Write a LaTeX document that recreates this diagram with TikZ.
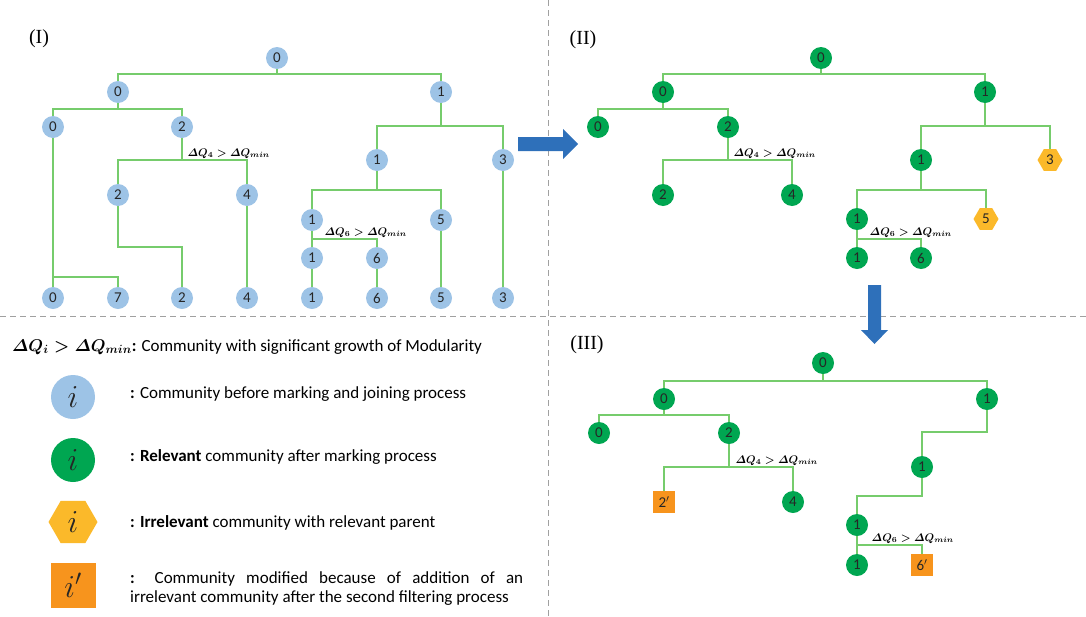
\documentclass[tikz,border=0pt]{standalone}
\usepackage{fix-cm}
\usepackage{amsmath,amssymb}
\usepackage[no-math]{fontspec}
\setmainfont{Carlito}
\newfontfamily\panelfont{Liberation Serif}
\usepackage{tikz}
\usetikzlibrary{shapes.geometric}

\definecolor{commblue}{RGB}{157,195,230}
\definecolor{relgreen}{RGB}{0,166,81}
\definecolor{irryellow}{RGB}{251,185,42}
\definecolor{modorange}{RGB}{247,148,29}
\definecolor{brgreen}{RGB}{118,204,108}
\definecolor{arrblue}{RGB}{46,112,186}
\definecolor{sepgray}{RGB}{160,160,160}

\newcommand{\dq}[1]{{\boldmath$\varDelta Q_{#1}>\varDelta Q_{min}$}}

\begin{document}
\begin{tikzpicture}[x=1pt,y=-1pt,
	font=\fontsize{15}{16}\selectfont,
	comm/.style={circle,fill=commblue,minimum size=22pt,inner sep=0pt,text=black!85},
	rel/.style={circle,fill=relgreen,minimum size=22pt,inner sep=0pt,text=black!85},
	irr/.style={regular polygon,regular polygon sides=6,fill=irryellow,minimum size=25pt,inner sep=0pt,text=black!85},
	mod/.style={rectangle,fill=modorange,minimum size=22pt,inner sep=0pt,text=black!85},
	br/.style={draw=brgreen,line width=1.3pt},
	dql/.style={anchor=south west,inner sep=1.5pt,font=\fontsize{11}{12}\selectfont},
	panel/.style={font=\panelfont\fontsize{20}{22}\selectfont},
	legend/.style={anchor=west,inner sep=0pt,font=\fontsize{17}{19}\selectfont},
	big/.style={font=\fontsize{32}{34}\selectfont},
	sep/.style={draw=sepgray,dash pattern=on 6pt off 4pt,line width=1pt}]
	\useasboundingbox (0,0) rectangle (1086,616);

	%% separators between the panels
	\draw[sep] (548,0) -- (548,616);
	\draw[sep] (0,316) -- (1086,316);

	%% panel (I): before marking
	\node[panel] (lI) at (39,39) {(I)};
	\node[comm] (r) at (277,58){0};
	\node[comm] (a) at (118,92){0};\node[comm] (b) at (441,92){1};
	\node[comm] (a0) at (53,127){0};\node[comm] (a2) at (182,127){2};
	\node[comm] (c2) at (118,195){2};\node[comm] (c4) at (247,195){4};
	\node[comm] (b1) at (377,160){1};\node[comm] (b3) at (503,160){3};
	\node[comm] (d1) at (312,220){1};\node[comm] (d5) at (441,220){5};
	\node[comm] (e1) at (312,258){1};\node[comm] (e6) at (377,258){6};
	%% leaves drawn with a loop
	\foreach \x/\l [count=\k] in {53/0,118/7,182/2,247/4,312/1,377/6,441/5,503/3}{
		\node[comm] (L\k) at (\x,298){\l};
		}
	\coordinate (jr) at (277,74);\coordinate (jA) at (118,109);
	\coordinate (jB) at (182,160);\coordinate (jC) at (53,277);
	\coordinate (jD) at (118,247);\coordinate (jE) at (441,126);
	\coordinate (jF) at (377,190);\coordinate (jG) at (312,239);
	\draw[br] (a) |- (jr) -| (b); \draw[br] (r) -- (jr);
	\draw[br] (a0) |- (jA) -| (a2); \draw[br] (a) -- (jA);
	\draw[br] (c2) |- (jB) -| (c4); \draw[br] (a2) -- (jB);
	\draw[br] (a0) -- (L1); \draw[br] (jC) -| (L2);
	\draw[br] (c2) -- (jD) -| (L3);
	\draw[br] (c4) -- (L4);
	\draw[br] (b1) |- (jE) -| (b3); \draw[br] (b) -- (jE);
	\draw[br] (d1) |- (jF) -| (d5); \draw[br] (b1) -- (jF);
	\draw[br] (d1) -- (e1); \draw[br] (jG) -| (e6);
	\draw[br] (e1) -- (L5); \draw[br] (e6) -- (L6);
	\draw[br] (d5) -- (L7); \draw[br] (b3) -- (L8);
	\node[dql,xshift=4pt] (qI4) at (jB) {\dq{4}};
	\node[dql,xshift=11pt] (qI6) at (jG) {\dq{6}};

	%% panel (II): after marking
	\node[panel] (lII) at (583,40) {(II)};
	\node[rel] (sr) at (821,58){0};
	\node[rel] (sa) at (663,92){0};\node[rel] (sb) at (985,92){1};
	\node[rel] (sa0) at (598,127){0};\node[rel] (sa2) at (728,127){2};
	\node[rel] (sc2) at (663,195){2};\node[rel] (sc4) at (792,195){4};
	\node[rel] (sb1) at (921,160){1};\node[irr] (sb3) at (1050,160){3};
	\node[rel] (sd1) at (857,219){1};\node[irr] (sd5) at (986,219){5};
	\node[rel] (se1) at (857,258){1};\node[rel] (se6) at (921,258){6};
	\coordinate (sjr) at (821,74);\coordinate (sjA) at (663,109);
	\coordinate (sjB) at (728,160);\coordinate (sjE) at (985,126);
	\coordinate (sjF) at (921,190);\coordinate (sjG) at (857,239);
	\draw[br] (sa) |- (sjr) -| (sb); \draw[br] (sr) -- (sjr);
	\draw[br] (sa0) |- (sjA) -| (sa2); \draw[br] (sa) -- (sjA);
	\draw[br] (sc2) |- (sjB) -| (sc4); \draw[br] (sa2) -- (sjB);
	\draw[br] (sb1) |- (sjE) -| (sb3); \draw[br] (sb) -- (sjE);
	\draw[br] (sd1) |- (sjF) -| (sd5); \draw[br] (sb1) -- (sjF);
	\draw[br] (sd1) -- (se1); \draw[br] (sjG) -| (se6);
	\node[dql,xshift=4pt] (qII4) at (sjB) {\dq{4}};
	\node[dql,xshift=11pt] (qII6) at (sjG) {\dq{6}};

	%% panel (III): after joining
	\node[panel] (lIII) at (587,345) {(III)};
	\node[rel] (tr) at (823,363){0};
	\node[rel] (ta) at (664,399){0};\node[rel] (tb) at (987,399){1};
	\node[rel] (ta0) at (599,433){0};\node[rel] (ta2) at (729,433){2};
	\node[mod] (tc2) at (664,502){2$'$};\node[rel] (tc4) at (793,502){4};
	\node[rel] (tb1) at (922,467){1};
	\node[rel] (td1) at (857,525){1};
	\node[rel] (te1) at (857,565){1};\node[mod] (te6) at (922,565){6$'$};
	\coordinate (tjr) at (823,381);\coordinate (tjA) at (664,415);
	\coordinate (tjB) at (729,467);\coordinate (tjE) at (987,432);
	\coordinate (tjF) at (922,496);\coordinate (tjG) at (857,545);
	\draw[br] (ta) |- (tjr) -| (tb); \draw[br] (tr) -- (tjr);
	\draw[br] (ta0) |- (tjA) -| (ta2); \draw[br] (ta) -- (tjA);
	\draw[br] (tc2) |- (tjB) -| (tc4); \draw[br] (ta2) -- (tjB);
	\draw[br] (tb) -- (tjE) -| (tb1);
	\draw[br] (tb1) -- (tjF) -| (td1);
	\draw[br] (td1) -- (te1); \draw[br] (tjG) -| (te6);
	\node[dql,xshift=5pt] (qIII4) at (tjB) {\dq{4}};
	\node[dql,xshift=13pt] (qIII6) at (tjG) {\dq{6}};

	%% block arrows between the panels
	\fill[arrblue] (518,137) -- (563,137) -- (563,129) -- (578,144) -- (563,159) -- (563,151) -- (518,151) -- cycle;
	\fill[arrblue] (868,285) -- (881,285) -- (881,330) -- (888,330) -- (874.5,344) -- (861,330) -- (868,330) -- cycle;

	%% legend
	\node[legend] (k0) at (12,347) {\dq{i}\textbf{:} Community with significant growth of Modularity};
	\node[comm,minimum size=44pt,big] (kc) at (73,397){$i$};
	\node[rel,minimum size=44pt,big] (kr) at (73,460){$i$};
	\node[irr,minimum size=49pt,big] (ki) at (73,522){$i$};
	\node[mod,minimum size=45pt,big] (km) at (73,585){$i'$};
	\node[legend] (tc) at (130,394) {\textbf{:} Community before marking and joining process};
	\node[legend] (tr2) at (130,457) {\textbf{: Relevant} community after marking process};
	\node[legend] (ti) at (130,523) {\textbf{: Irrelevant} community with relevant parent};
	\node[legend,text width=393pt,align=justify] (tm) at (130,588.5) {\textbf{:} Community modified because of addition of an\linebreak irrelevant community after the second filtering process};
\end{tikzpicture}
\end{document}
